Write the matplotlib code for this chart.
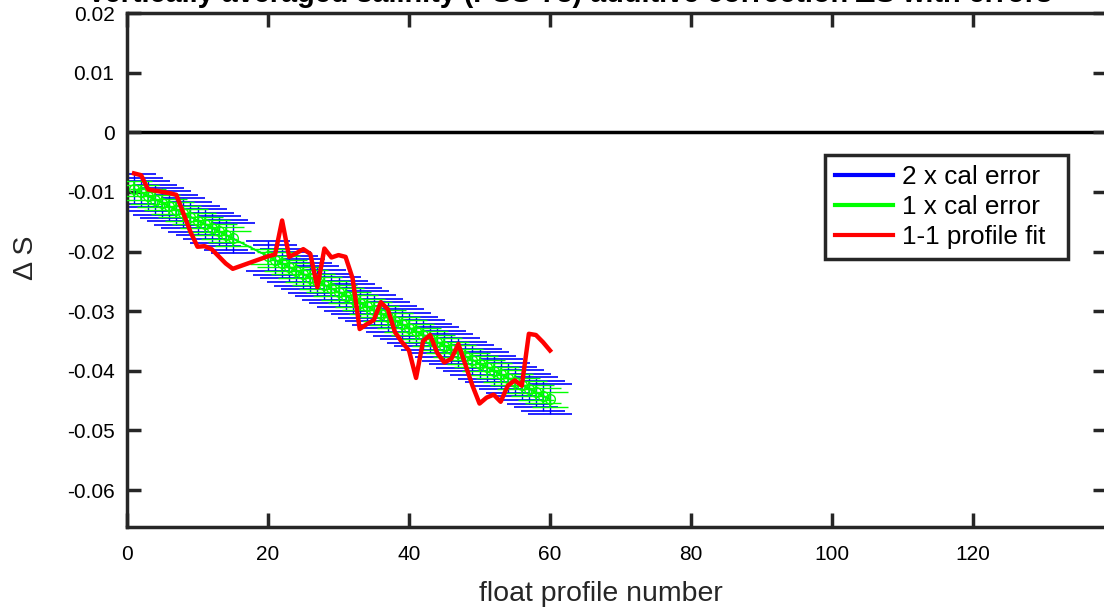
import matplotlib
matplotlib.use('Agg')
import matplotlib.pyplot as plt
from matplotlib.lines import Line2D

plt.rcParams['font.family'] = ['Liberation Sans', 'DejaVu Sans']

# profile numbers (16-19 missing)
prof = [1, 2, 3, 4, 5, 6, 7, 8, 9, 10, 11, 12, 13, 14, 15,
        20, 21, 22, 23, 24, 25, 26, 27, 28, 29, 30, 31, 32, 33, 34, 35,
        36, 37, 38, 39, 40, 41, 42, 43, 44, 45, 46, 47, 48, 49, 50,
        51, 52, 53, 54, 55, 56, 57, 58, 59, 60]

# calibrated salinity offset
cal_ds = [-0.0095, -0.0101, -0.0107, -0.0113, -0.0118, -0.0124, -0.0130, -0.0136,
          -0.0142, -0.0148, -0.0154, -0.0160, -0.0166, -0.0172, -0.0178,
          -0.0208, -0.0214, -0.0220, -0.0226, -0.0232, -0.0238, -0.0244, -0.0250,
          -0.0256, -0.0262, -0.0268, -0.0274, -0.0280, -0.0286, -0.0292, -0.0298,
          -0.0304, -0.0310, -0.0316, -0.0322, -0.0328, -0.0334, -0.0340, -0.0346,
          -0.0352, -0.0358, -0.0364, -0.0370, -0.0376, -0.0382, -0.0388, -0.0394,
          -0.0400, -0.0406, -0.0412, -0.0418, -0.0424, -0.0430, -0.0436, -0.0442,
          -0.0448]
cal_err = 0.00125

# 1-1 profile fit
fit_ds = [-0.0069, -0.0072, -0.0096, -0.0098, -0.0100, -0.0102, -0.0105, -0.0136,
          -0.0167, -0.0192, -0.0191, -0.0196, -0.0208, -0.0220, -0.0229,
          -0.0208, -0.0205, -0.0148, -0.0209, -0.0203, -0.0196, -0.0204, -0.0260,
          -0.0195, -0.0210, -0.0206, -0.0209, -0.0245, -0.0330, -0.0322, -0.0315,
          -0.0285, -0.0297, -0.0335, -0.0352, -0.0366, -0.0412, -0.0350, -0.0340,
          -0.0370, -0.0386, -0.0380, -0.0355, -0.0390, -0.0425, -0.0455, -0.0445,
          -0.0440, -0.0452, -0.0425, -0.0416, -0.0425, -0.0338, -0.0340, -0.0352,
          -0.0366]

legend_labels = ['2 x cal error', '1 x cal error', '1-1 profile fit']

fig = plt.figure(figsize=(11.04, 6.09), dpi=100)
ax = fig.add_axes([127/1104, 1 - 527/609, (1107 - 127)/1104, (527 - 13)/609])

ax.axhline(0, color='black', lw=2.5, zorder=1)

ax.errorbar(prof, cal_ds, yerr=[2*cal_err]*len(prof), color='blue', lw=1,
            capsize=16, capthick=1.2, zorder=2)
ax.errorbar(prof, cal_ds, yerr=[cal_err]*len(prof), color=(0, 1, 0), lw=1.2,
            marker='o', mfc='none', ms=7, mew=1, capsize=13, capthick=1.2, zorder=3)
ax.plot(prof, fit_ds, color='red', lw=3.2, zorder=4)

ax.set_xlim(0, 139)
ax.set_ylim(-0.0662, 0.02)
ax.set_xticks([0, 20, 40, 60, 80, 100, 120])
ax.set_yticks([-0.06, -0.05, -0.04, -0.03, -0.02, -0.01, 0, 0.01, 0.02])
ax.set_yticklabels(['-0.06', '-0.05', '-0.04', '-0.03', '-0.02', '-0.01', '0', '0.01', '0.02'])
ax.tick_params(direction='in', length=10, width=2.5, color='#262626',
               top=True, right=True, labelsize=15)
ax.tick_params(axis='x', pad=13)
ax.tick_params(axis='y', pad=9)
for s in ax.spines.values():
    s.set_linewidth(2.5)
    s.set_color('#262626')

ax.set_xlabel('float profile number', fontsize=20.5, color='#262626')
ax.set_ylabel('\u0394 S', fontsize=20.5, color='#262626')
ax.xaxis.set_label_coords((601 - 127)/980, -(594 - 527)/514)
ax.yaxis.set_label_coords(-(127 - 26)/980, (527 - 258)/514)
ax.xaxis.label.set_va('center')
ax.yaxis.label.set_va('center')

fig.text(87/1104, 1 - 1.5/609,
         'Vertically averaged salinity (PSS-78) additive correction \u0394S with errors',
         ha='left', va='baseline', fontsize=20.8, fontweight='bold', color='black')

handles = [Line2D([], [], color='blue', lw=3),
           Line2D([], [], color=(0, 1, 0), lw=3),
           Line2D([], [], color='red', lw=3)]
leg = ax.legend(handles, legend_labels, loc='upper left', mode='expand',
                bbox_to_anchor=(825/1104, 1 - 258/609, (1068 - 825)/1104, 103/609),
                bbox_transform=fig.transFigure,
                fontsize=18.8, frameon=True, fancybox=False, framealpha=1,
                edgecolor='#262626', handlelength=2.2, handletextpad=0.35,
                borderpad=0.4, labelspacing=0.22, borderaxespad=0)
leg.get_frame().set_linewidth(2.5)

fig.savefig('out.png', dpi=100)
